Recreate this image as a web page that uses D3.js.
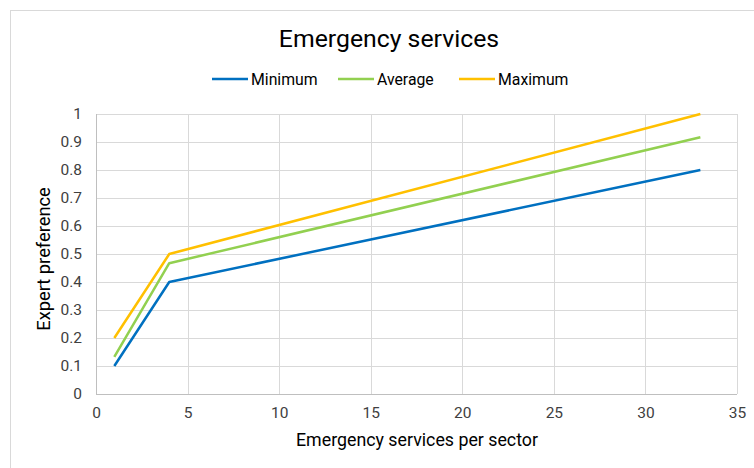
<!DOCTYPE html>
<html>
<head>
<meta charset="utf-8">
<script src="https://cdn.jsdelivr.net/npm/d3@7"></script>
<style>
  html, body { margin: 0; padding: 0; background: #fff; }
  svg { display: block; font-family: Roboto, "Noto Sans", sans-serif; }
</style>
</head>
<body>
<svg id="chart" width="754" height="468"></svg>
<script>
// Emergency services per sector vs. expert preference
const sectors = [1, 4, 33];
const minimum = [0.1, 0.4, 0.8];
const average = [0.133, 0.467, 0.917];
const maximum = [0.2, 0.5, 1.0];
const seriesNames = ["Minimum", "Average", "Maximum"];
const seriesColors = ["#0070C0", "#92D050", "#FFC000"];
const xTicks = [0, 5, 10, 15, 20, 25, 30, 35];
const yTicks = [0, 0.1, 0.2, 0.3, 0.4, 0.5, 0.6, 0.7, 0.8, 0.9, 1];

const svg = d3.select("#chart");
const W = 754, H = 468;
const plot = { left: 96, right: 737, top: 114, bottom: 394 };

// outer chart frame
svg.append("rect")
  .attr("x", 10.5).attr("y", 10.5)
  .attr("width", W).attr("height", H)
  .attr("fill", "#fff").attr("stroke", "#d9d9d9").attr("stroke-width", 1);

const x = d3.scaleLinear().domain([0, 35]).range([plot.left, plot.right]);
const y = d3.scaleLinear().domain([0, 1]).range([plot.bottom, plot.top]);

// gridlines
const grid = svg.append("g");
grid.selectAll("line.h").data(yTicks).join("line")
  .attr("x1", plot.left).attr("x2", plot.right)
  .attr("y1", d => Math.round(y(d)) + 0.5).attr("y2", d => Math.round(y(d)) + 0.5)
  .attr("stroke", d => d === 0 ? "#bfbfbf" : "#d9d9d9").attr("stroke-width", 1);
grid.selectAll("line.v").data(xTicks).join("line")
  .attr("y1", plot.top).attr("y2", plot.bottom)
  .attr("x1", d => Math.round(x(d)) + 0.5).attr("x2", d => Math.round(x(d)) + 0.5)
  .attr("stroke", d => d === 0 ? "#bfbfbf" : "#d9d9d9").attr("stroke-width", 1);

// axes (labels only; the lines come from the grid)
const xAxis = svg.append("g")
  .attr("transform", `translate(0,${plot.bottom})`)
  .call(d3.axisBottom(x).tickValues(xTicks).tickSize(0).tickPadding(13).tickFormat(d3.format("d")));
const yAxis = svg.append("g")
  .attr("transform", `translate(${plot.left},0)`)
  .call(d3.axisLeft(y).tickValues(yTicks).tickSize(0).tickPadding(14).tickFormat(d => d === 0 || d === 1 ? String(d) : d3.format(".1f")(d)));
[xAxis, yAxis].forEach(a => {
  a.select(".domain").remove();
  a.selectAll("text").attr("font-size", 15.5).attr("fill", "#404040")
    .attr("font-family", "Roboto, sans-serif");
});

// series lines
const seriesValues = [minimum, average, maximum];
const line = d3.line().x(d => x(d[0])).y(d => y(d[1]));
seriesValues.forEach((vals, i) => {
  svg.append("path")
    .datum(sectors.map((s, j) => [s, vals[j]]))
    .attr("d", line)
    .attr("fill", "none")
    .attr("stroke", seriesColors[i])
    .attr("stroke-width", 2.5)
    .attr("stroke-linejoin", "round");
});

// title
svg.append("text")
  .attr("x", 389).attr("y", 47)
  .attr("text-anchor", "middle")
  .attr("font-size", 24.8).attr("fill", "#000")
  .text("Emergency services");

// legend
const legendX = [212, 338, 459];
const legend = svg.append("g");
seriesNames.forEach((name, i) => {
  legend.append("line")
    .attr("x1", legendX[i]).attr("x2", legendX[i] + 36)
    .attr("y1", 79).attr("y2", 79)
    .attr("stroke", seriesColors[i]).attr("stroke-width", 2.5);
  legend.append("text")
    .attr("x", legendX[i] + 39).attr("y", 84.5)
    .attr("font-size", 15.8).attr("fill", "#000")
    .text(name);
});

// axis titles
svg.append("text")
  .attr("x", 417).attr("y", 446)
  .attr("text-anchor", "middle")
  .attr("font-size", 17.8).attr("fill", "#000")
  .text("Emergency services per sector");
svg.append("text")
  .attr("transform", `translate(50,259) rotate(-90)`)
  .attr("text-anchor", "middle")
  .attr("font-size", 18.3).attr("fill", "#000")
  .text("Expert preference");
</script>
</body>
</html>
